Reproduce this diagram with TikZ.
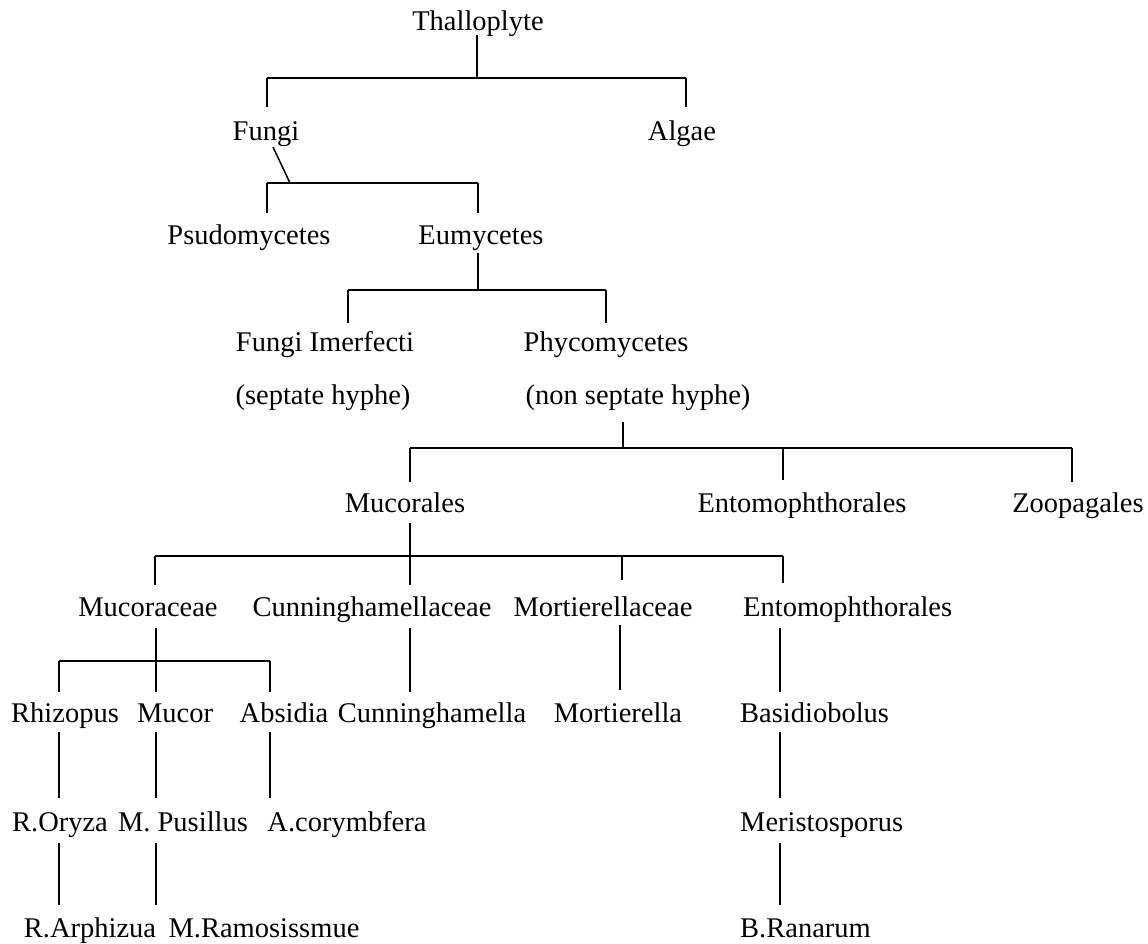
\documentclass[tikz,border=0pt]{standalone}
\usepackage{fontspec}
\setmainfont{Liberation Serif}
\begin{document}
\begin{tikzpicture}[x=1pt,y=-1pt,
  lbl/.style={inner sep=0pt,anchor=base,font=\fontsize{28.5}{34}\selectfont},
  lblw/.style={lbl,anchor=base west},
  ln/.style={line width=1.5pt,line cap=butt},
  bar/.style={line width=2pt}]
\useasboundingbox (0,0) rectangle (1148,944);
% ---- labels ----
\node[lbl] (thal) at (478,31) {Thalloplyte};
\node[lbl] (fungi) at (266,141) {Fungi};
\node[lbl] (algae) at (682,141) {Algae};
\node[lbl] (psudo) at (249,244) {Psudomycetes};
\node[lbl] (eumy) at (481,244) {Eumycetes};
\node[lbl] (fimp) at (325,351) {Fungi Imerfecti};
\node[lbl] (phyco) at (606,351) {Phycomycetes};
\node[lbl] (sept) at (323,404) {(septate hyphe)};
\node[lbl] (nonsept) at (638,404) {(non septate hyphe)};
\node[lbl] (mucorales) at (405,512) {Mucorales};
\node[lbl] (entoA) at (802,512) {Entomophthorales};
\node[lbl] (zoo) at (1078,512) {Zoopagales};
\node[lbl] (mucoraceae) at (148,616) {Mucoraceae};
\node[lbl] (cunnf) at (372,616) {Cunninghamellaceae};
\node[lbl] (mortf) at (603,616) {Mortierellaceae};
\node[lblw] (entoB) at (743,616) {Entomophthorales};
\node[lbl] (rhiz) at (65,722) {Rhizopus};
\node[lbl] (mucor) at (175,722) {Mucor};
\node[lbl] (absidia) at (284,722) {Absidia};
\node[lbl] (cunn) at (432,722) {Cunninghamella};
\node[lbl] (mort) at (618,722) {Mortierella};
\node[lblw] (basid) at (740,722) {Basidiobolus};
\node[lbl] (roryza) at (60,831) {R.Oryza};
\node[lbl] (mpus) at (183,831) {M. Pusillus};
\node[lbl] (acor) at (347,831) {A.corymbfera};
\node[lblw] (meris) at (740,831) {Meristosporus};
\node[lbl] (rarph) at (90,937) {R.Arphizua};
\node[lbl] (mram) at (264,937) {M.Ramosissmue};
\node[lblw] (bran) at (740,937) {B.Ranarum};
% ---- junction coordinates ----
\coordinate (t0) at (477,35);  \coordinate (t1) at (477,78);
\coordinate (tl) at (267,78);  \coordinate (tr) at (686,78);
\coordinate (tl2) at (267,107); \coordinate (tr2) at (686,107);
\coordinate (f0) at (273,147); \coordinate (f1) at (290,183);
\coordinate (fl) at (267,183); \coordinate (fr) at (478,183);
\coordinate (fl2) at (267,213); \coordinate (fr2) at (478,213);
\coordinate (e0) at (478,253); \coordinate (e1) at (478,290);
\coordinate (el) at (348,290); \coordinate (er) at (606,290);
\coordinate (el2) at (348,323); \coordinate (er2) at (606,323);
\coordinate (p0) at (623,422); \coordinate (p1) at (623,448);
\coordinate (pl) at (410,448); \coordinate (pm) at (783,448); \coordinate (pr) at (1072,448);
\coordinate (pl2) at (410,482); \coordinate (pm2) at (783,480); \coordinate (pr2) at (1072,482);
\coordinate (m0) at (410,523); \coordinate (m1) at (410,556);
\coordinate (ma) at (155,556); \coordinate (mb) at (622,556); \coordinate (mc) at (783,556);
\coordinate (ma2) at (155,585); \coordinate (m12) at (410,585); \coordinate (mb2) at (622,580); \coordinate (mc2) at (783,583);
\coordinate (c0) at (156,628); \coordinate (c1) at (156,692);
\coordinate (cl) at (59,661);  \coordinate (cr) at (270,661);
\coordinate (cm) at (156,661);
\coordinate (cl2) at (59,692); \coordinate (cr2) at (270,692);
\coordinate (g0) at (410,628); \coordinate (g1) at (410,692);
\coordinate (h0) at (620,625); \coordinate (h1) at (620,690);
\coordinate (k0) at (780,628); \coordinate (k1) at (780,692);
\coordinate (r0) at (59,732);  \coordinate (r1) at (59,798);
\coordinate (s0) at (156,732); \coordinate (s1) at (156,798);
\coordinate (a0) at (270,732); \coordinate (a1) at (270,798);
\coordinate (b0) at (780,732); \coordinate (b1) at (780,798);
\coordinate (r2) at (59,843);  \coordinate (r3) at (59,905);
\coordinate (s2) at (156,843); \coordinate (s3) at (156,905);
\coordinate (b2) at (780,843); \coordinate (b3) at (780,905);
% ---- connectors ----
\draw[ln] (t0) -- (t1);
\draw[bar] (tl) -- (tr);
\draw[ln] (tl) -- (tl2); \draw[ln] (tr) -- (tr2);
\draw[ln] (f0) -- (f1);
\draw[bar] (fl) -- (fr);
\draw[ln] (fl) -- (fl2); \draw[ln] (fr) -- (fr2);
\draw[ln] (e0) -- (e1);
\draw[bar] (el) -- (er);
\draw[ln] (el) -- (el2); \draw[ln] (er) -- (er2);
\draw[ln] (p0) -- (p1);
\draw[bar] (pl) -- (pr);
\draw[ln] (pl) -- (pl2); \draw[ln] (pm) -- (pm2); \draw[ln] (pr) -- (pr2);
\draw[ln] (m0) -- (m1);
\draw[bar] (ma) -- (mc);
\draw[ln] (ma) -- (ma2); \draw[ln] (m1) -- (m12); \draw[ln] (mb) -- (mb2); \draw[ln] (mc) -- (mc2);
\draw[ln] (c0) -- (c1);
\draw[bar] (cl) -- (cr);
\draw[ln] (cl) -- (cl2); \draw[ln] (cr) -- (cr2);
\draw[ln] (g0) -- (g1);
\draw[ln] (h0) -- (h1);
\draw[ln] (k0) -- (k1);
\draw[ln] (r0) -- (r1); \draw[ln] (s0) -- (s1); \draw[ln] (a0) -- (a1); \draw[ln] (b0) -- (b1);
\draw[ln] (r2) -- (r3); \draw[ln] (s2) -- (s3); \draw[ln] (b2) -- (b3);
\end{tikzpicture}
\end{document}
